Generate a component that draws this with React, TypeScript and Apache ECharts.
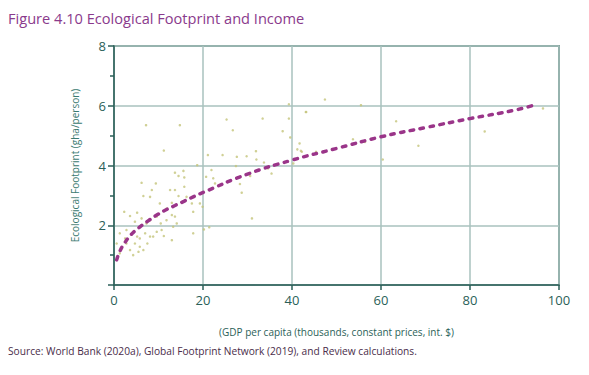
import React, { useEffect, useRef } from "react";
import * as echarts from "echarts";

const titleText = "Figure 4.10 Ecological Footprint and Income";
const sourceText =
  "Source: World Bank (2020a), Global Footprint Network (2019), and Review calculations.";
const xAxisName = "(GDP per capita (thousands, constant prices, int. $)";
const yAxisName = "Ecological Footprint (gha/person)";

// scatter: [GDP per capita (thousands), footprint (gha/person)]
const countries: number[][] = [
  [7.2, 5.35], [14.8, 5.35], [11.2, 4.5], [25.3, 5.54], [26.7, 5.18], [33.4, 5.57],
  [39.3, 6.05], [39.3, 5.57], [37.9, 5.15], [39.6, 4.94], [43.1, 5.79], [41.7, 4.74],
  [41.2, 4.54], [42.0, 4.49], [21.1, 4.35], [24.4, 4.35], [18.7, 4.01], [27.6, 4.29],
  [29.8, 4.31], [31.9, 4.48], [32.0, 4.2], [33.7, 4.1], [34.6, 3.9], [35.4, 3.73],
  [27.4, 3.98], [40.3, 4.07], [20.7, 3.62], [21.9, 3.85], [22.3, 3.57], [22.7, 3.4],
  [28.3, 3.38], [28.7, 3.09], [31.0, 2.23], [30.6, 3.65], [13.7, 3.76], [14.5, 3.65],
  [15.6, 3.82], [15.8, 3.6], [6.2, 3.42], [9.4, 3.4], [8.5, 3.18], [12.6, 3.18],
  [13.7, 3.18], [6.6, 2.98], [8.1, 2.95], [10.3, 2.73], [11.8, 2.56], [13.0, 2.75],
  [14.5, 2.98], [15.8, 3.29], [16.3, 2.95], [17.5, 2.73], [17.8, 2.45], [19.3, 2.73],
  [19.9, 2.62], [17.8, 1.73], [20.2, 1.86], [21.4, 1.93], [2.3, 2.45], [3.6, 2.31],
  [5.2, 2.42], [4.7, 2.12], [6.2, 2.23], [7.3, 2.06], [8.1, 2.17], [9.6, 2.29],
  [10.5, 2.06], [11.8, 2.17], [13.0, 2.34], [13.7, 2.29], [14.1, 2.06], [13.3, 1.95],
  [10.7, 1.84], [9.6, 1.78], [11.2, 1.64], [13.0, 1.5], [8.8, 1.62], [7.0, 1.73],
  [5.8, 1.56], [4.3, 1.78], [2.8, 1.84], [1.3, 1.73], [0.6, 1.39], [1.7, 1.23],
  [2.8, 1.39], [3.6, 1.17], [4.3, 1.0], [5.5, 1.11], [6.6, 1.17], [2.5, 1.56],
  [4.7, 1.39], [5.8, 1.28], [1.3, 1.06], [5.2, 1.62], [7.5, 1.39], [8.1, 1.62],
  [47.4, 6.21], [43.2, 5.79], [55.5, 6.02], [63.4, 5.48], [83.3, 5.14], [68.4, 4.66],
  [53.7, 4.88], [56.4, 4.79], [45.4, 4.46], [60.4, 4.2], [96.4, 5.91], [42.2, 4.46],
];

// fitted trend line
const trend: number[][] = [
  [0.6, 0.84], [1.35, 1.14], [2.5, 1.43], [4.0, 1.71], [5.7, 1.93], [7.6, 2.14],
  [9.6, 2.34], [11.6, 2.51], [13.7, 2.66], [15.7, 2.8], [17.8, 2.95], [19.9, 3.09],
  [30, 3.71], [40, 4.18], [50, 4.57], [60, 4.96], [70, 5.27], [80, 5.57],
  [90, 5.85], [95, 6.05],
];

const teal = "#2b5f58";
const gridCol = "#a9c2be";
const font = "'Open Sans', 'Noto Sans', sans-serif";

export default function App() {
  const ref = useRef<HTMLDivElement>(null);
  useEffect(() => {
    if (!ref.current) return;
    const chart = echarts.init(ref.current, null, { renderer: "svg" });
    chart.setOption({
      animation: false,
      backgroundColor: "#ffffff",
      textStyle: { fontFamily: font },
      graphic: [
        {
          type: "text",
          left: 8,
          top: 10,
          style: {
            text: titleText,
            fill: "#8a3a8c",
            font: `14.6px ${font}`,
          },
        },
        {
          type: "text",
          left: 8,
          top: 346,
          style: {
            text: sourceText,
            fill: "#4a2d4a",
            font: `10.2px ${font}`,
          },
        },
      ],
      grid: {
        left: 114,
        right: 30,
        top: 46,
        bottom: 90,
        show: true,
        borderColor: teal,
        borderWidth: 1.5,
      },
      xAxis: {
        type: "value",
        min: 0,
        max: 100,
        interval: 20,
        name: xAxisName,
        nameLocation: "middle",
        nameGap: 42,
        nameTextStyle: { color: teal, fontSize: 10 },
        axisLine: { show: true, lineStyle: { color: teal, width: 1.5 } },
        axisTick: { show: true, length: 5, lineStyle: { color: teal, width: 1.5 } },
        axisLabel: { color: teal, fontSize: 13, margin: 8 },
        splitLine: { show: true, lineStyle: { color: gridCol, width: 1.5 } },
      },
      yAxis: {
        type: "value",
        min: 0,
        max: 8,
        interval: 2,
        name: yAxisName,
        nameLocation: "middle",
        nameGap: 34,
        nameTextStyle: { color: "#3a7a70", fontSize: 10 },
        axisLine: { show: true, lineStyle: { color: teal, width: 1.5 } },
        axisTick: { show: true, length: 6, lineStyle: { color: teal, width: 1.5 } },
        minorTick: { show: true, splitNumber: 2, length: 4, lineStyle: { color: teal, width: 1.5 } },
        axisLabel: {
          color: teal,
          fontSize: 13,
          margin: 8,
          formatter: (v: number) => (v === 0 ? "" : String(v)),
        },
        splitLine: { show: true, lineStyle: { color: gridCol, width: 1.5 } },
      },
      series: [
        {
          type: "scatter",
          data: countries,
          symbol: "circle",
          symbolSize: 2.5,
          itemStyle: { color: "#c4c47a" },
          silent: true,
        },
        {
          type: "line",
          data: trend,
          smooth: true,
          showSymbol: false,
          symbol: "none",
          lineStyle: {
            color: "#9a3589",
            width: 3.5,
            type: [3.5, 6.5],
            cap: "round",
          },
          silent: true,
        },
      ],
    });
    return () => chart.dispose();
  }, []);
  return <div ref={ref} style={{ width: 589, height: 375, margin: -8 }} />;
}
